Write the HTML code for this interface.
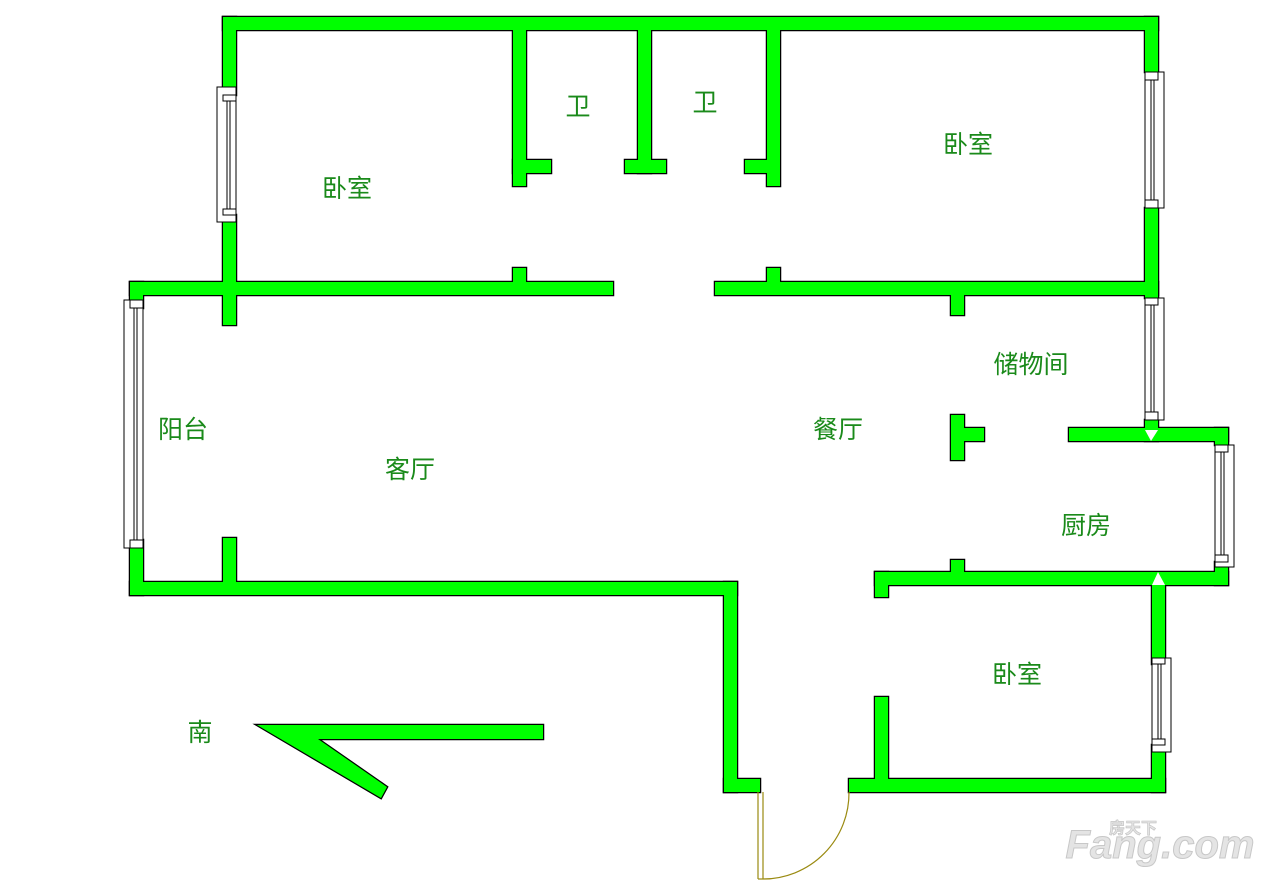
<!DOCTYPE html>
<html><head><meta charset="utf-8"><style>
html,body{margin:0;padding:0;background:#fff;}
svg{display:block}
text{font-family:"Liberation Sans","Noto Sans CJK SC",sans-serif;fill:#1a8a1a;font-size:25px;text-anchor:middle;dominant-baseline:central}
</style></head><body>
<svg width="1268" height="888" viewBox="0 0 1268 888" xmlns="http://www.w3.org/2000/svg">
<defs>
<g id="w">
<rect x="223" y="17" width="935" height="13"/>
<rect x="223" y="17" width="13" height="78"/>
<rect x="223" y="215" width="13" height="110"/>
<rect x="1145" y="17" width="13" height="55"/>
<rect x="1145" y="208" width="13" height="90"/>
<rect x="1145" y="420" width="13" height="21"/>
<rect x="130" y="282" width="483" height="13"/>
<rect x="715" y="282" width="443" height="13"/>
<rect x="513" y="268" width="13" height="20"/>
<rect x="767" y="268" width="13" height="20"/>
<rect x="513" y="30" width="13" height="156"/>
<rect x="513" y="160" width="38" height="13"/>
<rect x="638" y="30" width="13" height="143"/>
<rect x="625" y="160" width="41" height="13"/>
<rect x="767" y="30" width="13" height="156"/>
<rect x="745" y="160" width="30" height="13"/>
<rect x="130" y="282" width="13" height="26"/>
<rect x="130" y="540" width="13" height="55"/>
<rect x="130" y="582" width="607" height="13"/>
<rect x="223" y="538" width="13" height="50"/>
<rect x="951" y="290" width="13" height="25"/>
<rect x="724" y="582" width="13" height="210"/>
<rect x="724" y="779" width="36" height="13"/>
<rect x="849" y="779" width="316" height="13"/>
<rect x="875" y="697" width="13" height="90"/>
<rect x="1069" y="428" width="159" height="13"/>
<rect x="1215" y="428" width="13" height="17"/>
<rect x="1215" y="562" width="13" height="23"/>
<rect x="875" y="572" width="353" height="13"/>
<rect x="875" y="572" width="13" height="25"/>
<rect x="951" y="560" width="13" height="16"/>
<rect x="951" y="415" width="13" height="45"/>
<rect x="955" y="428" width="29" height="13"/>
<rect x="1152" y="578" width="13" height="86"/>
<rect x="1152" y="745" width="13" height="47"/>
<polygon points="257,725 543,725 543,739 318,739 387,787 381,798"/>
</g>
</defs>
<use href="#w" fill="#000" stroke="#000" stroke-width="2.5"/>
<use href="#w" fill="#00ff00"/>
<polygon points="1145,430 1158,430 1151,441" fill="#fff"/>
<polygon points="1152,585 1165,585 1158,572" fill="#fff"/>
<g fill="#fff" stroke="#000" stroke-width="1">
<rect x="217" y="87" width="19" height="135"/><line x1="227" y1="95" x2="227" y2="215"/><line x1="230" y1="95" x2="230" y2="215"/><rect x="223" y="95" width="13" height="6"/><rect x="223" y="209" width="13" height="6"/>
<rect x="1145" y="72" width="19" height="136"/><line x1="1151" y1="80" x2="1151" y2="200"/><line x1="1154" y1="80" x2="1154" y2="200"/><rect x="1145" y="72" width="13" height="8"/><rect x="1145" y="200" width="13" height="8"/>
<rect x="1145" y="298" width="19" height="122"/><line x1="1151" y1="305" x2="1151" y2="412"/><line x1="1154" y1="305" x2="1154" y2="412"/><rect x="1145" y="298" width="13" height="7"/><rect x="1145" y="412" width="13" height="8"/>
<rect x="124" y="300" width="19" height="248"/><line x1="134" y1="308" x2="134" y2="540"/><line x1="137" y1="308" x2="137" y2="540"/><rect x="130" y="300" width="13" height="8"/><rect x="130" y="540" width="13" height="8"/>
<rect x="1215" y="445" width="19" height="122"/><line x1="1221" y1="452" x2="1221" y2="555"/><line x1="1224" y1="452" x2="1224" y2="555"/><rect x="1215" y="445" width="13" height="7"/><rect x="1215" y="555" width="13" height="7"/>
<rect x="1152" y="658" width="19" height="94"/><line x1="1158" y1="664" x2="1158" y2="745"/><line x1="1161" y1="664" x2="1161" y2="745"/><rect x="1152" y="658" width="13" height="6"/><rect x="1152" y="739" width="13" height="6"/>
</g>
<g fill="none" stroke="#9a8a10" stroke-width="1.2">
<line x1="758" y1="792" x2="758" y2="879"/><line x1="763" y1="792" x2="763" y2="879"/>
<line x1="758" y1="879" x2="763" y2="879"/>
<path d="M763,879 A86,86 0 0 0 849,792"/>
</g>
<text x="347" y="189">卧室</text>
<text x="578" y="107">卫</text>
<text x="705" y="103">卫</text>
<text x="968" y="145">卧室</text>
<text x="1031" y="365">储物间</text>
<text x="183" y="430">阳台</text>
<text x="410" y="470">客厅</text>
<text x="838" y="430">餐厅</text>
<text x="1086" y="526">厨房</text>
<text x="1017" y="675">卧室</text>
<text x="200" y="733">南</text>
<text x="1160" y="845" style="fill:#e4e4e4;stroke:#c8c8c8;stroke-width:1;font-size:40px;font-weight:bold;font-style:italic">Fang.com</text>
<text x="1133" y="829" style="fill:#e4e4e4;stroke:#c0c0c0;stroke-width:0.6;font-size:16px;font-weight:bold">房天下</text>
</svg>
</body></html>
